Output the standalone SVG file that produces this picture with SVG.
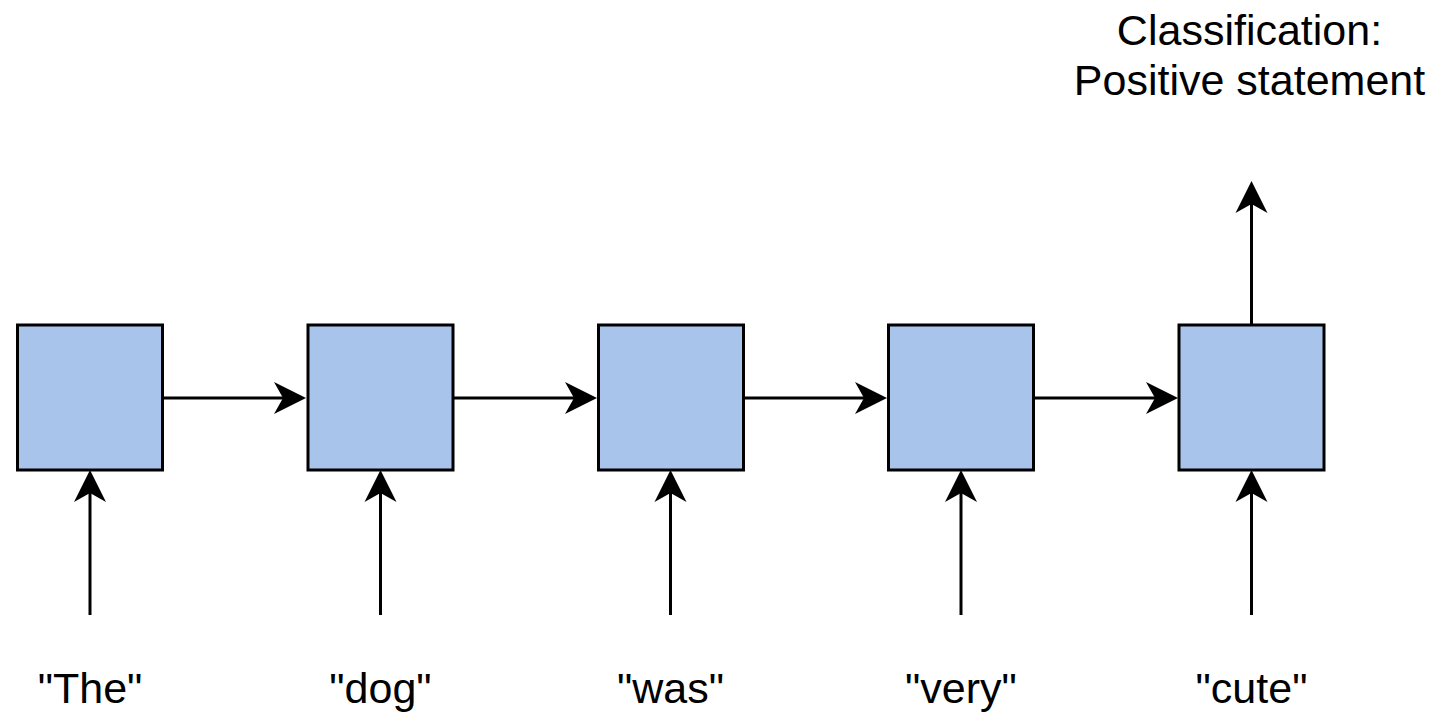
<svg xmlns="http://www.w3.org/2000/svg" width="1440" height="717" viewBox="0 0 1440 717">
  <style>
    .cell { fill: #A9C4EB; stroke: #000000; stroke-width: 3; }
    .edge { fill: none; stroke: #000000; stroke-width: 3; marker-end: url(#arrow); }
    .label { font-family: "Liberation Sans", Arial, Helvetica, sans-serif; font-size: 43px; fill: #000000; text-anchor: middle; }
  </style>
  <defs>
    <!-- classic block arrowhead, notch at (9,16), tip at (32,16) -->
    <marker id="arrow" markerUnits="userSpaceOnUse" markerWidth="34" markerHeight="34" refX="9" refY="16" orient="auto" overflow="visible">
      <path d="M32,16 L0,0 L9,16 L0,32 Z" fill="#000000"/>
    </marker>
  </defs>

  <rect width="1440" height="717" fill="#ffffff"/>

  <!-- connectors -->
  <g id="connectors">
    <!-- recurrent links between cells -->
    <path class="edge" d="M162.5,398 H283"/>
    <path class="edge" d="M453,398 H574"/>
    <path class="edge" d="M743.5,398 H864"/>
    <path class="edge" d="M1033.5,398 H1155"/>
    <!-- word inputs -->
    <path class="edge" d="M90,615 V493"/>
    <path class="edge" d="M380.5,615 V493"/>
    <path class="edge" d="M670.5,615 V493"/>
    <path class="edge" d="M961,615 V493"/>
    <path class="edge" d="M1251.5,615 V493"/>
    <!-- output -->
    <path class="edge" d="M1251.5,325 V204"/>
  </g>

  <!-- cells -->
  <g id="cell-1"><rect class="cell" x="17.5" y="325" width="145" height="145"/></g>
  <g id="cell-2"><rect class="cell" x="308" y="325" width="145" height="145"/></g>
  <g id="cell-3"><rect class="cell" x="598.5" y="325" width="145" height="145"/></g>
  <g id="cell-4"><rect class="cell" x="888.5" y="325" width="145" height="145"/></g>
  <g id="cell-5"><rect class="cell" x="1179" y="325" width="145" height="145"/></g>

  <!-- input words -->
  <g id="word-1"><text class="label" x="90" y="703">"The"</text></g>
  <g id="word-2"><text class="label" x="380.5" y="703">"dog"</text></g>
  <g id="word-3"><text class="label" x="670.5" y="703">"was"</text></g>
  <g id="word-4"><text class="label" x="961" y="703">"very"</text></g>
  <g id="word-5"><text class="label" x="1251.5" y="703">"cute"</text></g>

  <!-- output label -->
  <g id="output">
    <text class="label" x="1249.5" y="45">Classification:</text>
    <text class="label" x="1249.5" y="95">Positive statement</text>
  </g>
</svg>
